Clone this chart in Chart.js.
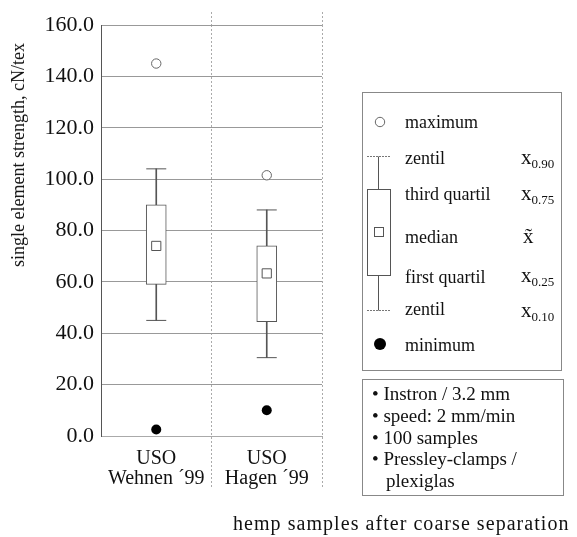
<!DOCTYPE html>
<html><head><meta charset="utf-8">
<script src="https://cdn.jsdelivr.net/npm/chart.js@4/dist/chart.umd.min.js"></script>
<style>
html,body{margin:0;padding:0;background:#fff;}
#wrap{position:relative;width:577px;height:537px;font-family:"Liberation Serif","Times New Roman",serif;color:#111;overflow:hidden;}
#c{position:absolute;left:0;top:0;}
.abs{position:absolute;white-space:nowrap;line-height:1;}
.box{position:absolute;border:1px solid #888;box-sizing:border-box;}
.lg{font-size:18px;}
.sym{font-size:21px;}
.sym sub{font-size:13px;vertical-align:-4px;}
.note{font-size:19px;}
</style></head><body>
<div id="wrap">
<canvas id="c" width="577" height="537"></canvas>

<div class="abs" style="left:18px;top:155px;font-size:18px;transform:translate(-50%,-50%) rotate(-90deg);">single element strength, cN/tex</div>
<div class="abs" style="left:233px;top:513px;font-size:20px;letter-spacing:1.05px;">hemp samples after coarse separation</div>

<div class="box" style="left:362px;top:92px;width:200px;height:279px;"></div>
<div class="box" style="left:362px;top:379px;width:202px;height:117px;"></div>

<svg class="abs" style="left:0;top:0;" width="577" height="537">
  <circle cx="380" cy="122" r="4.7" fill="#fff" stroke="#666" stroke-width="1"/>
  <line x1="367" y1="156.5" x2="390" y2="156.5" stroke="#777" stroke-width="1" stroke-dasharray="2,1"/>
  <line x1="378.5" y1="156.5" x2="378.5" y2="189" stroke="#555" stroke-width="1"/>
  <rect x="367.5" y="189.5" width="23" height="86" fill="#fff" stroke="#555" stroke-width="1"/>
  <rect x="374.5" y="227.5" width="9" height="9" fill="#fff" stroke="#555" stroke-width="1"/>
  <line x1="378.5" y1="275.5" x2="378.5" y2="310.5" stroke="#555" stroke-width="1"/>
  <line x1="367" y1="310.5" x2="390" y2="310.5" stroke="#777" stroke-width="1" stroke-dasharray="2,1"/>
  <circle cx="380" cy="344" r="6" fill="#000"/>
</svg>

<div class="abs lg" style="left:405px;top:113px;">maximum</div>
<div class="abs lg" style="left:405px;top:149px;">zentil</div>
<div class="abs lg" style="left:405px;top:185px;">third quartil</div>
<div class="abs lg" style="left:405px;top:228px;">median</div>
<div class="abs lg" style="left:405px;top:268px;">first quartil</div>
<div class="abs lg" style="left:405px;top:300px;">zentil</div>
<div class="abs lg" style="left:405px;top:336px;">minimum</div>

<div class="abs sym" style="left:521px;top:147px;">x<sub>0.90</sub></div>
<div class="abs sym" style="left:521px;top:183px;">x<sub>0.75</sub></div>
<div class="abs sym" style="left:523px;top:226px;">x&#771;</div>
<div class="abs sym" style="left:521px;top:265px;">x<sub>0.25</sub></div>
<div class="abs sym" style="left:521px;top:300px;">x<sub>0.10</sub></div>

<div class="abs note" style="left:372px;top:384px;">&bull; Instron / 3.2 mm</div>
<div class="abs note" style="left:372px;top:406px;">&bull; speed: 2 mm/min</div>
<div class="abs note" style="left:372px;top:428px;">&bull; 100 samples</div>
<div class="abs note" style="left:372px;top:449px;">&bull; Pressley-clamps /</div>
<div class="abs note" style="left:386px;top:471px;">plexiglas</div>
</div>
<script>
const categories = [['USO', 'Wehnen \u00b499'], ['USO', 'Hagen \u00b499']];
const maximum  = [145, 101.5];
const zentil90 = [104, 88];
const quartil3 = [90, 74];
const median   = [74, 63.3];
const quartil1 = [59, 44.5];
const zentil10 = [45, 30.5];
const minimum  = [2.5, 10];
const yMin = 0, yMax = 160, yStep = 20;

const FONT = 'Liberation Serif';
const edge = '#555';
const tickCol = (ctx) => ctx.index === 0 ? 'rgba(0,0,0,0)' : '#aaa';

new Chart(document.getElementById('c'), {
  data: {
    labels: categories,
    datasets: [
      { type: 'bar', data: zentil10.map((v, i) => [v, zentil90[i]]), barThickness: 1,
        backgroundColor: edge, borderWidth: 0, grouped: false, order: 6 },
      { type: 'bar', data: quartil1.map((v, i) => [v, quartil3[i]]), barThickness: 20,
        backgroundColor: '#fff', borderColor: edge, borderWidth: 1, borderSkipped: false, grouped: false, order: 5 },
      { type: 'line', data: zentil90, showLine: false, pointStyle: 'line', pointRadius: 10,
        borderColor: edge, pointBorderWidth: 1, order: 4 },
      { type: 'line', data: zentil10, showLine: false, pointStyle: 'line', pointRadius: 10,
        borderColor: edge, pointBorderWidth: 1, order: 4 },
      { type: 'line', data: median, showLine: false, pointStyle: 'rect', pointRadius: 6.5,
        pointBackgroundColor: '#fff', borderColor: edge, pointBorderWidth: 1, order: 3 },
      { type: 'line', data: maximum, showLine: false, pointStyle: 'circle', pointRadius: 4.7,
        pointBackgroundColor: '#fff', borderColor: '#666', pointBorderWidth: 1, order: 2 },
      { type: 'line', data: minimum, showLine: false, pointStyle: 'circle', pointRadius: 5,
        pointBackgroundColor: '#000', borderColor: '#000', pointBorderWidth: 0, order: 1 }
    ]
  },
  options: {
    responsive: false,
    animation: false,
    events: [],
    layout: { padding: { left: 44, right: 255, top: 12, bottom: 48 } },
    plugins: { legend: { display: false }, tooltip: { enabled: false } },
    scales: {
      x: {
        type: 'category', offset: true,
        grid: { offset: true, color: '#aaa', tickLength: 51, tickColor: tickCol, tickBorderDash: [2, 2] },
        border: { display: true, color: '#aaa', dash: [2, 2] },
        ticks: { font: { family: FONT, size: 20, lineHeight: 1 }, color: '#111', padding: -38,
                 maxRotation: 0, autoSkip: false },
        afterFit: (s) => { s.height = 53; }
      },
      x2: {
        type: 'category', position: 'top', labels: categories, offset: true,
        grid: { offset: true, drawOnChartArea: false, tickLength: 13, tickColor: tickCol, tickBorderDash: [2, 2] },
        border: { display: false },
        ticks: { display: false }
      },
      y: {
        min: yMin, max: yMax,
        ticks: { stepSize: yStep, callback: (v) => v.toFixed(1), font: { family: FONT, size: 22 },
                 color: '#111', padding: 7 },
        grid: { color: '#999', drawTicks: false },
        border: { color: '#555' },
        afterFit: (s) => { s.width = 57; }
      }
    }
  }
});
</script>
</body></html>
